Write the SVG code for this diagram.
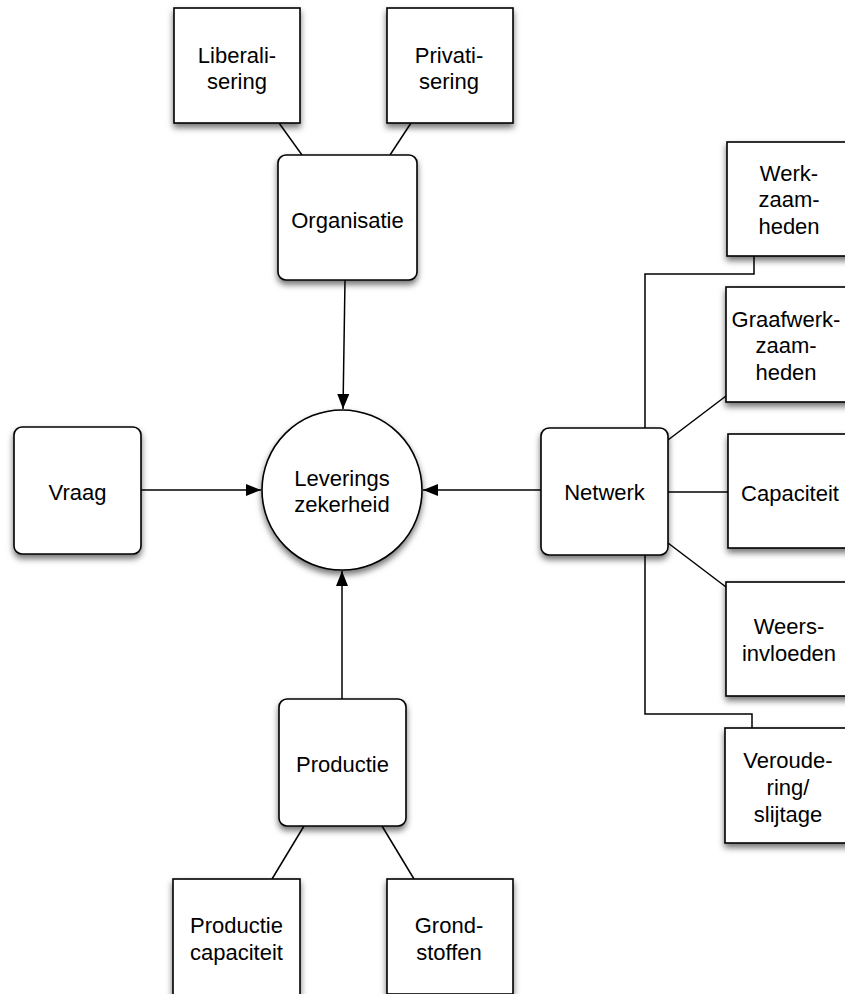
<svg xmlns="http://www.w3.org/2000/svg" width="845" height="994" viewBox="0 0 845 994">
<style>
.box{fill:#fff;stroke:#000;stroke-width:1.6;filter:url(#sh)}
.t{font-family:"Liberation Sans",Arial,Helvetica,sans-serif;font-size:22px;fill:#000;text-anchor:middle}
.c{fill:none;stroke:#000;stroke-width:1.5}
</style>
<defs>
<filter id="sh" x="-20%" y="-20%" width="140%" height="150%">
<feDropShadow dx="0" dy="4" stdDeviation="3" flood-color="#000" flood-opacity="0.55"/>
</filter>
<marker id="ah" markerUnits="userSpaceOnUse" markerWidth="16" markerHeight="12" refX="15" refY="6" orient="auto">
<path d="M0,0 L15,6 L0,12 Z" fill="#000"/>
</marker>
</defs>
<g id="connectors">
<line class="c" x1="279" y1="123" x2="302" y2="155"/>
<line class="c" x1="411" y1="123" x2="390" y2="155"/>
<line class="c" x1="345" y1="280" x2="343" y2="409" marker-end="url(#ah)"/>
<line class="c" x1="141" y1="490" x2="261" y2="490" marker-end="url(#ah)"/>
<line class="c" x1="541" y1="490" x2="423" y2="490" marker-end="url(#ah)"/>
<line class="c" x1="342" y1="699" x2="342" y2="571" marker-end="url(#ah)"/>
<line class="c" x1="304" y1="826" x2="272" y2="879"/>
<line class="c" x1="382" y1="826" x2="414" y2="879"/>
<polyline class="c" points="754,256 754,274 645,274 645,428"/>
<line class="c" x1="668" y1="440" x2="726" y2="396"/>
<line class="c" x1="668" y1="492" x2="728" y2="492"/>
<line class="c" x1="668" y1="543" x2="726" y2="587"/>
<polyline class="c" points="645,555 645,714 752,714 752,728"/>
</g>
<g id="liberalisering">
<rect class="box" x="174" y="8" width="126" height="115"/>
<text class="t" x="237" y="63">Liberali-</text>
<text class="t" x="237" y="89">sering</text>
</g>
<g id="privatisering">
<rect class="box" x="387" y="8" width="126" height="115"/>
<text class="t" x="449" y="63">Privati-</text>
<text class="t" x="449" y="89">sering</text>
</g>
<g id="organisatie">
<rect class="box" x="278" y="155" width="139" height="125" rx="8"/>
<text class="t" x="347.5" y="228">Organisatie</text>
</g>
<g id="leveringszekerheid">
<circle class="box" cx="342" cy="490" r="80"/>
<text class="t" x="342" y="486">Leverings</text>
<text class="t" x="342" y="512">zekerheid</text>
</g>
<g id="vraag">
<rect class="box" x="14" y="427" width="127" height="127" rx="8"/>
<text class="t" x="77.5" y="500">Vraag</text>
</g>
<g id="netwerk">
<rect class="box" x="541" y="428" width="127" height="127" rx="8"/>
<text class="t" x="604.5" y="500">Netwerk</text>
</g>
<g id="productie">
<rect class="box" x="279" y="699" width="127" height="127" rx="8"/>
<text class="t" x="342.5" y="772">Productie</text>
</g>
<g id="werkzaamheden">
<rect class="box" x="727" y="142" width="126" height="114"/>
<text class="t" x="789" y="181">Werk-</text>
<text class="t" x="789" y="207">zaam-</text>
<text class="t" x="789" y="234">heden</text>
</g>
<g id="graafwerkzaamheden">
<rect class="box" x="726" y="287" width="126" height="115"/>
<text class="t" x="786" y="327">Graafwerk-</text>
<text class="t" x="786" y="353">zaam-</text>
<text class="t" x="786" y="380">heden</text>
</g>
<g id="capaciteit">
<rect class="box" x="728" y="434" width="126" height="114"/>
<text class="t" x="790" y="501">Capaciteit</text>
</g>
<g id="weersinvloeden">
<rect class="box" x="726" y="582" width="126" height="114"/>
<text class="t" x="789" y="634">Weers-</text>
<text class="t" x="789" y="661">invloeden</text>
</g>
<g id="veroudering">
<rect class="box" x="725" y="728" width="126" height="115"/>
<text class="t" x="788" y="768">Veroude-</text>
<text class="t" x="788" y="795">ring/</text>
<text class="t" x="788" y="822">slijtage</text>
</g>
<g id="productiecapaciteit">
<rect class="box" x="173" y="879" width="127" height="125"/>
<text class="t" x="236.5" y="933">Productie</text>
<text class="t" x="236.5" y="960">capaciteit</text>
</g>
<g id="grondstoffen">
<rect class="box" x="387" y="879" width="126" height="115"/>
<text class="t" x="449" y="933">Grond-</text>
<text class="t" x="449" y="960">stoffen</text>
</g>
</svg>
